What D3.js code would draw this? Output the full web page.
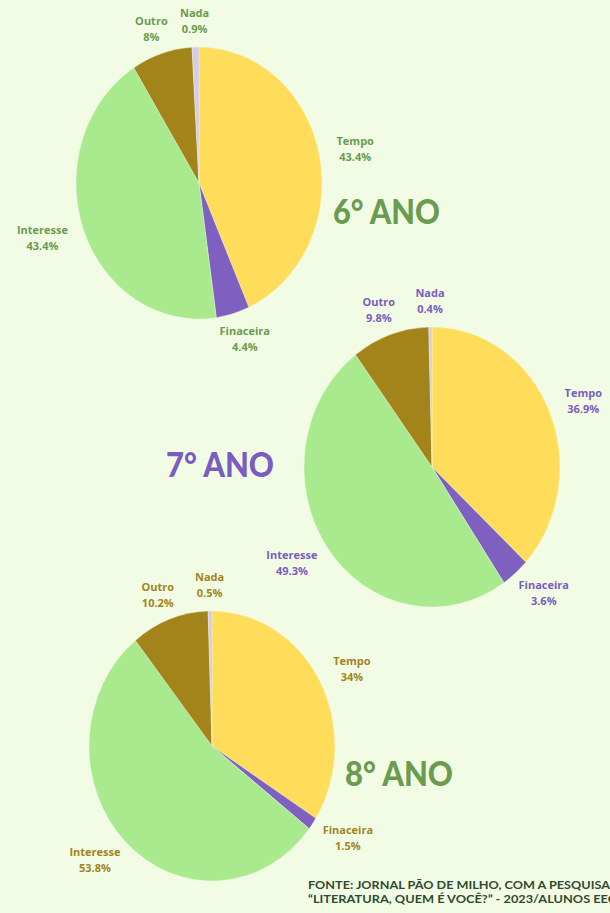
<!DOCTYPE html>
<html>
<head>
<meta charset="utf-8">
<script src="https://cdn.jsdelivr.net/npm/d3@7"></script>
<style>
  html, body { margin: 0; padding: 0; background: #f2fce5; }
  svg { display: block; }
  .lbl { font-family: "Open Sans", sans-serif; font-weight: 700; font-size: 11px; }
  .title { font-family: Lato, sans-serif; font-weight: 900; }
  .src { font-family: Lato, sans-serif; font-weight: 700; font-size: 11px; fill: #2f4a30; }
</style>
</head>
<body>
<div id="chart"></div>
<script>
// data
const categories = ["Tempo", "Finaceira", "Interesse", "Outro", "Nada"];
const values6 = [43.4, 4.4, 43.4, 8, 0.9];
const values7 = [36.9, 3.6, 49.3, 9.8, 0.4];
const values8 = [34, 1.5, 53.8, 10.2, 0.5];
const grades = ["6° ANO", "7° ANO", "8° ANO"];
const sourceLines = [
  "FONTE:  JORNAL PÃO DE MILHO, COM A PESQUISA",
  "“LITERATURA, QUEM É VOCÊ?” - 2023/ALUNOS EECI"
];

// colours
const sliceColor = d3.scaleOrdinal()
  .domain(categories)
  .range(["#ffdd5a", "#7f5fbf", "#aaea8e", "#a2841b", "#d6cbe9"]);

const width = 610, height = 913;

// layout of each pie (ellipse centre / radii) and its title
const panels = [
  { values: values6, cx: 199, cy: 183, rx: 123, ry: 136, color: "#6a9b4e", tx: 333, ty: 224, tw: 107 },
  { values: values7, cx: 432, cy: 467, rx: 128, ry: 140, color: "#7b5cc0", tx: 166, ty: 477, tw: 108 },
  { values: values8, cx: 212, cy: 746, rx: 123, ry: 135, color: "#a2841b", tx: 345, ty: 786, tw: 108, titleColor: "#6a9b4e" }
];

const svg = d3.select("#chart").append("svg")
  .attr("width", width)
  .attr("height", height);

svg.append("rect").attr("width", width).attr("height", height).attr("fill", "#f2fce5");

const pie = d3.pie().sort(null).value(d => d.value);

panels.forEach((p, pi) => {
  const data = categories.map((c, i) => ({ name: c, value: p.values[i] }));
  const arcs = pie(data);
  const arc = d3.arc().innerRadius(0).outerRadius(p.ry);

  // pie (drawn as circle, stretched to the ellipse)
  const g = svg.append("g")
    .attr("transform", `translate(${p.cx},${p.cy}) scale(${p.rx / p.ry},1)`);

  g.selectAll("path")
    .data(arcs)
    .enter()
    .append("path")
    .attr("d", arc)
    .attr("fill", d => sliceColor(d.data.name))
    .attr("stroke", "#f2fce5")
    .attr("stroke-width", 0.4);

  // labels outside the slices
  const lg = svg.append("g").attr("transform", `translate(${p.cx},${p.cy})`);
  arcs.forEach(d => {
    const mid = (d.startAngle + d.endAngle) / 2;
    const s = Math.sin(mid), c = -Math.cos(mid);
    const t = lg.append("text")
      .attr("class", "lbl")
      .attr("fill", p.color)
      .attr("text-anchor", "middle");
    t.append("tspan").attr("x", 0).attr("y", -4).text(d.data.name);
    t.append("tspan").attr("x", 0).attr("y", 12).text(d.data.value + "%");
    const halfW = t.node().getBBox().width / 2;
    const x = p.rx * 1.08 * s + (halfW + 8) * s;
    const y = p.ry * 1.08 * c + 15 * c;
    t.attr("transform", `translate(${x},${y})`);
  });

  // title
  svg.append("text")
    .attr("class", "title")
    .attr("x", p.tx)
    .attr("y", p.ty)
    .attr("font-size", 34)
    .attr("textLength", p.tw)
    .attr("lengthAdjust", "spacingAndGlyphs")
    .attr("fill", p.titleColor || p.color)
    .text(grades[pi]);
});

// source note
svg.selectAll(".src")
  .data(sourceLines)
  .enter()
  .append("text")
  .attr("class", "src")
  .attr("x", 308)
  .attr("y", (d, i) => 889 + i * 14)
  .attr("textLength", (d, i) => i === 0 ? 302 : 312)
  .attr("lengthAdjust", "spacingAndGlyphs")
  .text(d => d);
</script>
</body>
</html>
